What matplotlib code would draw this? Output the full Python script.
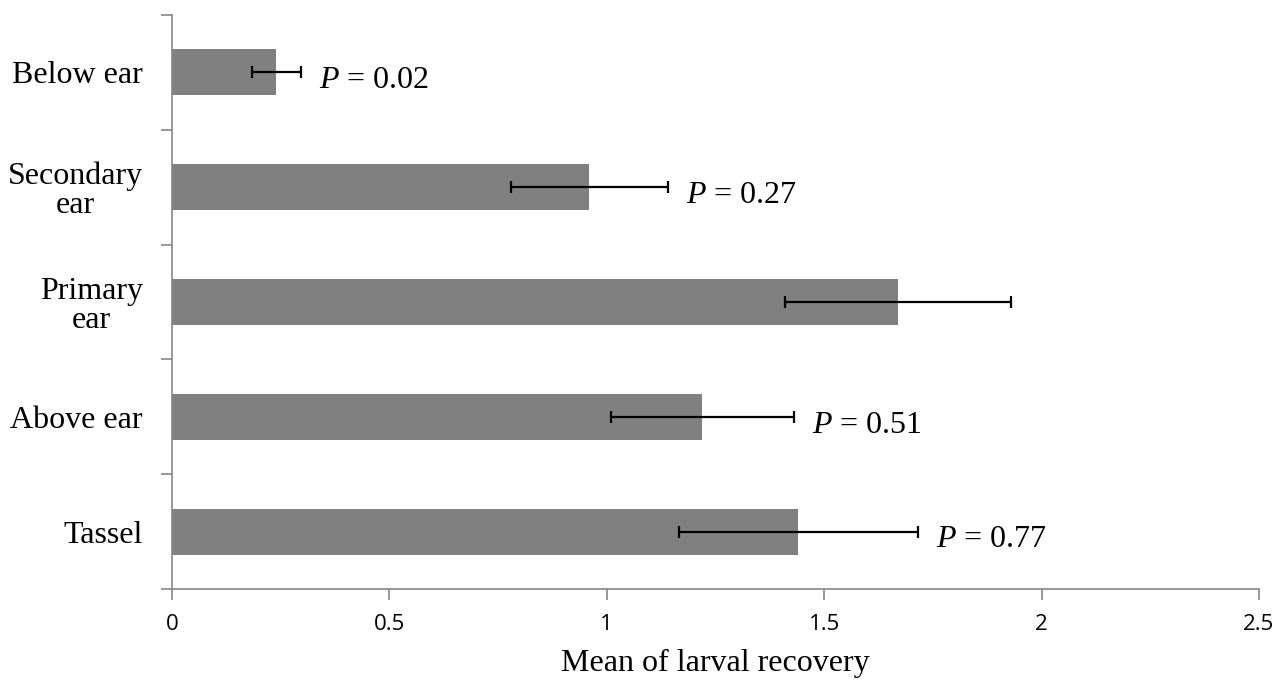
import numpy as np
import matplotlib
matplotlib.use('Agg')
import matplotlib.pyplot as plt

plt.rcParams['mathtext.fontset'] = 'custom'
plt.rcParams['mathtext.rm'] = 'Liberation Serif'
plt.rcParams['mathtext.it'] = 'Liberation Serif:italic'

# data, top to bottom as drawn
sites = ['Below ear', 'Secondary\near', 'Primary\near', 'Above ear', 'Tassel']
means = [0.24, 0.96, 1.67, 1.22, 1.44]
errs = [0.056, 0.18, 0.26, 0.21, 0.275]
pvals = ['0.02', '0.27', None, '0.51', '0.77']

axis_grey = '#868686'

fig = plt.figure(figsize=(12.78, 6.85), dpi=100)
ax = fig.add_axes([0.1346, 0.1401, 0.8505, 0.8380])

y = np.arange(len(sites))
ax.barh(y, means, height=0.4, color='#808080', zorder=2)
ax.errorbar(means, y, xerr=errs, fmt='none', ecolor='black',
            elinewidth=1.6, capsize=4, capthick=1.6, zorder=3)

for yi, m, e, p in zip(y, means, errs, pvals):
    if p is None:
        continue
    ax.annotate('$P$ = ' + p, xy=(m + e, yi), xytext=(13, -6),
                textcoords='offset points', ha='left', va='center',
                fontsize=23, family='Liberation Serif')

ax.set_xlim(0, 2.5)
ax.set_ylim(len(sites) - 0.5, -0.5)
ax.set_xticks([0, 0.5, 1, 1.5, 2, 2.5])
ax.set_xticklabels(['0', '0.5', '1', '1.5', '2', '2.5'], family='Open Sans', fontsize=16)

# category boundary ticks like the spreadsheet style
ax.set_yticks(np.arange(-0.5, len(sites), 1.0))
ax.set_yticklabels([])
ax.set_yticks(y, minor=True)
ax.set_yticklabels(sites, minor=True, family='Liberation Serif', fontsize=23,
                   ha='right', multialignment='center', linespacing=1.0)
ax.tick_params(axis='y', which='minor', length=0, pad=21)
ax.tick_params(axis='y', which='major', length=8, width=1.2, color=axis_grey)
ax.tick_params(axis='x', length=8, width=1.2, color=axis_grey, pad=10)

for s in ['top', 'right']:
    ax.spines[s].set_visible(False)
for s in ['left', 'bottom']:
    ax.spines[s].set_color(axis_grey)
    ax.spines[s].set_linewidth(1.2)

ax.set_xlabel('Mean of larval recovery', family='Liberation Serif', fontsize=23, labelpad=10)

fig.savefig('out.png', dpi=100)
